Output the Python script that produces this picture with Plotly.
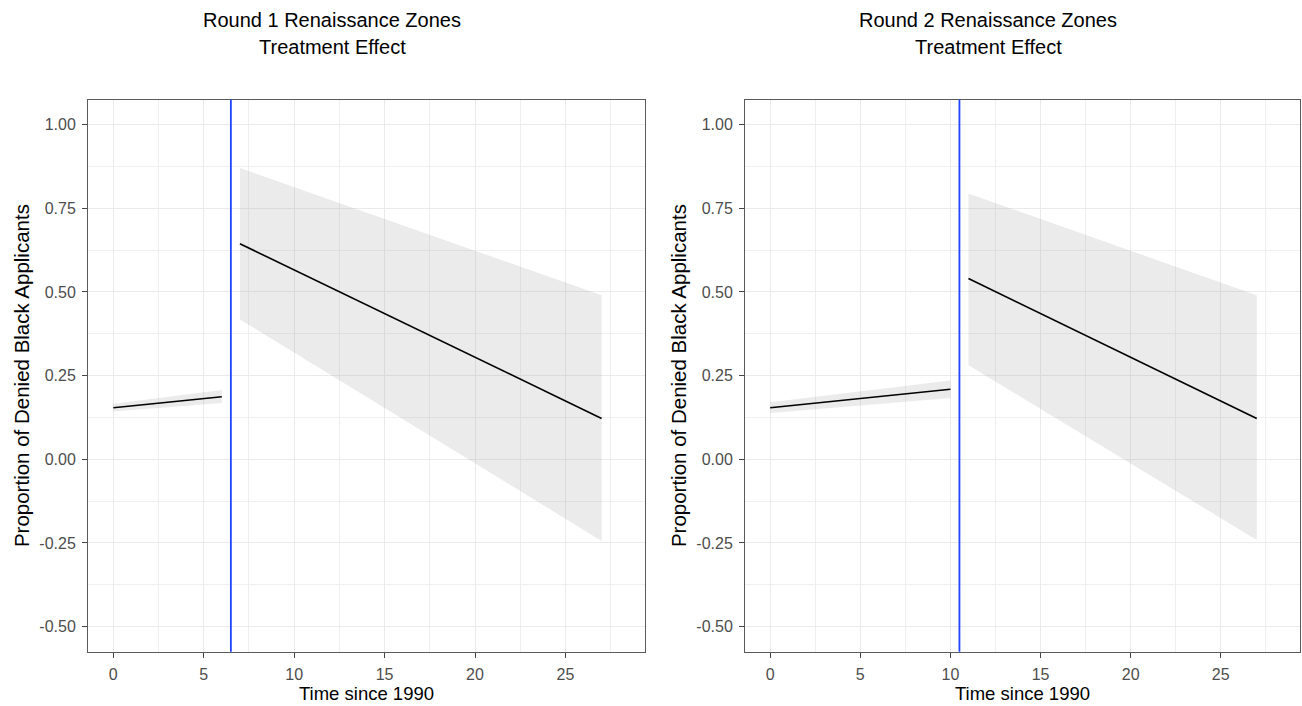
import plotly.graph_objects as go

# Fitted segments (before / after the zone designation) with confidence bands
r1_pre_x = [0, 6]
r1_pre_fit = [0.154, 0.187]
r1_pre_lo = [0.143, 0.168]
r1_pre_hi = [0.166, 0.207]
r1_post_x = [7, 27]
r1_post_fit = [0.644, 0.122]
r1_post_lo = [0.418, -0.244]
r1_post_hi = [0.870, 0.490]
r1_cut = 6.5

r2_pre_x = [0, 10]
r2_pre_fit = [0.154, 0.209]
r2_pre_lo = [0.138, 0.183]
r2_pre_hi = [0.170, 0.235]
r2_post_x = [11, 27]
r2_post_fit = [0.540, 0.122]
r2_post_lo = [0.281, -0.241]
r2_post_hi = [0.794, 0.490]
r2_cut = 10.5

titles = ["Round 1 Renaissance Zones", "Round 2 Renaissance Zones"]
subtitle = "Treatment Effect"
x_title = "Time since 1990"
y_title = "Proportion of Denied Black Applicants"
x_ticks = [0, 5, 10, 15, 20, 25]
y_ticks = [-0.5, -0.25, 0.0, 0.25, 0.5, 0.75, 1.0]
y_ticktext = ["-0.50", "-0.25", "0.00", "0.25", "0.50", "0.75", "1.00"]

W, H = 1302, 706
FONT = "Liberation Sans, Arial, sans-serif"
RIBBON = "rgba(153,153,153,0.2)"

fig = go.Figure()


def add_segment(x, fit, lo, hi, xa, ya):
    fig.add_trace(go.Scatter(
        x=x + x[::-1], y=hi + lo[::-1], fill="toself", fillcolor=RIBBON,
        line=dict(width=0), mode="lines", hoverinfo="skip",
        xaxis=xa, yaxis=ya, showlegend=False))
    fig.add_trace(go.Scatter(
        x=x, y=fit, mode="lines", line=dict(color="black", width=1.6),
        xaxis=xa, yaxis=ya, showlegend=False))


add_segment(r1_pre_x, r1_pre_fit, r1_pre_lo, r1_pre_hi, "x", "y")
add_segment(r1_post_x, r1_post_fit, r1_post_lo, r1_post_hi, "x", "y")
add_segment(r2_pre_x, r2_pre_fit, r2_pre_lo, r2_pre_hi, "x2", "y2")
add_segment(r2_post_x, r2_post_fit, r2_post_lo, r2_post_hi, "x2", "y2")

# panel geometry in pixels
panels = [(88, 645), (745, 1300)]
top_px, bot_px = 99.5, 651.7
ydom = [1 - bot_px / H, 1 - top_px / H]

axis_common = dict(
    showline=True, mirror=True, linecolor="#5a5a5a", linewidth=1,
    ticks="outside", ticklen=5, tickcolor="#444", tickwidth=1,
    showgrid=True, gridcolor="#EAEAEA", gridwidth=1.2, zeroline=False,
    tickfont=dict(family=FONT, size=16, color="#4D4D4D"),
    ticklabelstandoff=3,
)

layout_axes = {}
for i, (l, r) in enumerate(panels):
    sfx = "" if i == 0 else "2"
    layout_axes["xaxis" + sfx] = dict(
        axis_common, domain=[l / W, r / W], range=[-1.4, 29.4],
        tickvals=x_ticks, anchor="y" + sfx,
        minor=dict(showgrid=True, gridcolor="#EFEFEF", gridwidth=0.8,
                   tickvals=[2.5, 7.5, 12.5, 17.5, 22.5, 27.5]),
        title=dict(text=x_title, font=dict(family=FONT, size=18.5, color="black"),
                   standoff=2),
    )
    layout_axes["yaxis" + sfx] = dict(
        axis_common, domain=ydom, range=[-0.575, 1.075],
        tickvals=y_ticks, ticktext=y_ticktext, anchor="x" + sfx,
        minor=dict(showgrid=True, gridcolor="#EFEFEF", gridwidth=0.8,
                   tickvals=[-0.375, -0.125, 0.125, 0.375, 0.625, 0.875]),
        title=dict(text=y_title, font=dict(family=FONT, size=20.5, color="black"),
                   standoff=4),
    )

shapes = []
for xa, cut in (("x", r1_cut), ("x2", r2_cut)):
    shapes.append(dict(type="line", xref=xa, yref=("y" if xa == "x" else "y2") + " domain",
                       x0=cut, x1=cut, y0=0, y1=1,
                       line=dict(color="#1f45ff", width=1.8), layer="above"))

annotations = []
for cx, t in zip((332, 988), titles):
    annotations.append(dict(text=t, x=cx / W, y=1 - 20 / H, xref="paper", yref="paper",
                            xanchor="center", yanchor="middle", showarrow=False,
                            font=dict(family=FONT, size=20, color="black")))
    annotations.append(dict(text=subtitle, x=cx / W, y=1 - 47 / H, xref="paper", yref="paper",
                            xanchor="center", yanchor="middle", showarrow=False,
                            font=dict(family=FONT, size=20, color="black")))

fig.update_layout(
    width=W, height=H, margin=dict(l=0, r=0, t=0, b=0),
    paper_bgcolor="white", plot_bgcolor="white",
    shapes=shapes, annotations=annotations, **layout_axes,
)

fig.write_html("out.html")
